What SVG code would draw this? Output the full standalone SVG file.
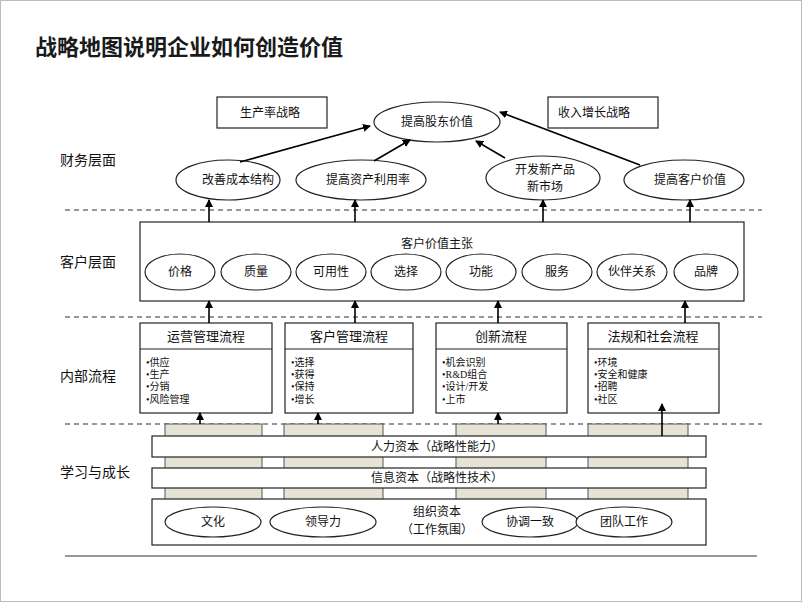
<svg xmlns="http://www.w3.org/2000/svg" width="802" height="602" viewBox="0 0 802 602">
<defs>
<marker id="ah" markerWidth="8" markerHeight="8" refX="7" refY="4" orient="auto" markerUnits="userSpaceOnUse"><path d="M0,0 L8,4 L0,8 z" fill="#000"/></marker>
<style>
text{font-family:"Liberation Serif","Noto Sans CJK SC",serif;fill:#111;text-anchor:middle;dominant-baseline:central;font-size:12px}
.lbl{font-size:14px;text-anchor:start}
.b{fill:#fff;stroke:#222;stroke-width:1.2}
.bg{fill:#e6e3d6;stroke:#555;stroke-width:1}
.dash{stroke:#333;stroke-width:1.2;stroke-dasharray:5,4}
.c line{stroke:#000;stroke-width:1.6;marker-end:url(#ah)}
.bul{text-anchor:start;font-size:10px}
</style>
</defs>
<rect x="0.5" y="0.5" width="801" height="601" fill="#fff" stroke="#bbb"/>
<text x="35" y="45" style="font-family:'Noto Sans CJK SC',sans-serif;font-size:22px;font-weight:bold;text-anchor:start;fill:#1a1a1a">战略地图说明企业如何创造价值</text>
<g id="rowlabels">
<text class="lbl" x="60" y="160">财务层面</text>
<text class="lbl" x="60" y="262">客户层面</text>
<text class="lbl" x="60" y="376">内部流程</text>
<text class="lbl" x="60" y="472">学习与成长</text>
</g>
<g id="dividers">
<line class="dash" x1="65" y1="210" x2="762" y2="210"/>
<line class="dash" x1="65" y1="317" x2="762" y2="317"/>
<line class="dash" x1="65" y1="424" x2="762" y2="424"/>
<line x1="65" y1="556" x2="757" y2="556" stroke="#333" stroke-width="1.2"/>
</g>
<g id="finance">
<g id="s1"><rect class="b" x="217" y="97" width="110" height="31"/><text x="240" y="113" style="text-anchor:start">生产率战略</text></g>
<g id="s2"><rect class="b" x="548" y="97" width="110" height="31"/><text x="558" y="113" style="text-anchor:start">收入增长战略</text></g>
<g id="f0"><ellipse class="b" cx="437" cy="122" rx="63" ry="20"/><text x="437" y="122">提高股东价值</text></g>
<g id="f1"><ellipse class="b" cx="228" cy="180" rx="52" ry="20"/><text x="238" y="180">改善成本结构</text></g>
<g id="f2"><ellipse class="b" cx="361" cy="180" rx="65" ry="20"/><text x="368" y="180">提高资产利用率</text></g>
<g id="f3"><ellipse class="b" cx="543" cy="178" rx="57" ry="22"/><text x="545" y="170">开发新产品</text><text x="545" y="187">新市场</text></g>
<g id="f4"><ellipse class="b" cx="684" cy="180" rx="60" ry="20"/><text x="690" y="180">提高客户价值</text></g>
</g>
<g id="customer">
<rect class="b" x="140" y="222" width="604" height="79"/>
<text x="437" y="244">客户价值主张</text>
<g id="c1"><ellipse class="b" cx="180" cy="272" rx="35" ry="18"/><text x="180" y="272">价格</text></g>
<g id="c2"><ellipse class="b" cx="256" cy="272" rx="35" ry="18"/><text x="256" y="272">质量</text></g>
<g id="c3"><ellipse class="b" cx="331" cy="272" rx="35" ry="18"/><text x="331" y="272">可用性</text></g>
<g id="c4"><ellipse class="b" cx="406" cy="272" rx="35" ry="18"/><text x="406" y="272">选择</text></g>
<g id="c5"><ellipse class="b" cx="481" cy="272" rx="35" ry="18"/><text x="481" y="272">功能</text></g>
<g id="c6"><ellipse class="b" cx="557" cy="272" rx="35" ry="18"/><text x="557" y="272">服务</text></g>
<g id="c7"><ellipse class="b" cx="632" cy="272" rx="35" ry="18"/><text x="632" y="272">伙伴关系</text></g>
<g id="c8"><ellipse class="b" cx="706" cy="272" rx="32" ry="18"/><text x="706" y="272">品牌</text></g>
</g>
<g id="internal">
<g id="p1"><rect class="b" x="140" y="323" width="132" height="90"/><line x1="140" y1="349" x2="272" y2="349" stroke="#222"/><text x="206" y="336" style="font-size:13px">运营管理流程</text>
<text class="bul" x="146" y="362">•供应</text><text class="bul" x="146" y="374">•生产</text><text class="bul" x="146" y="386">•分销</text><text class="bul" x="146" y="399">•风险管理</text></g>
<g id="p2"><rect class="b" x="285" y="323" width="128" height="90"/><line x1="285" y1="349" x2="413" y2="349" stroke="#222"/><text x="349" y="336" style="font-size:13px">客户管理流程</text>
<text class="bul" x="291" y="362">•选择</text><text class="bul" x="291" y="374">•获得</text><text class="bul" x="291" y="386">•保持</text><text class="bul" x="291" y="399">•增长</text></g>
<g id="p3"><rect class="b" x="436" y="323" width="131" height="90"/><line x1="436" y1="349" x2="567" y2="349" stroke="#222"/><text x="501" y="336" style="font-size:13px">创新流程</text>
<text class="bul" x="442" y="362">•机会识别</text><text class="bul" x="442" y="374">•R&amp;D组合</text><text class="bul" x="442" y="386">•设计/开发</text><text class="bul" x="442" y="399">•上市</text></g>
<g id="p4"><rect class="b" x="588" y="323" width="131" height="90"/><line x1="588" y1="349" x2="719" y2="349" stroke="#222"/><text x="653" y="336" style="font-size:13px">法规和社会流程</text>
<text class="bul" x="594" y="362">•环境</text><text class="bul" x="594" y="374">•安全和健康</text><text class="bul" x="594" y="386">•招聘</text><text class="bul" x="594" y="399">•社区</text></g>
</g>
<g id="learning">
<rect class="bg" x="165" y="424" width="97" height="76"/>
<rect class="bg" x="284" y="424" width="99" height="76"/>
<rect class="bg" x="456" y="424" width="90" height="76"/>
<rect class="bg" x="588" y="424" width="100" height="76"/>
<g id="l1"><rect class="b" x="152" y="436" width="554" height="21"/><text x="437" y="446.5">人力资本（战略性能力）</text></g>
<g id="l2"><rect class="b" x="152" y="468" width="554" height="20"/><text x="437" y="478">信息资本（战略性技术）</text></g>
<g id="l3"><rect class="b" x="152" y="499" width="554" height="46"/><text x="437" y="512">组织资本</text><text x="437" y="530">（工作氛围）</text>
<ellipse class="b" cx="213" cy="522" rx="48" ry="15"/><text x="213" y="522">文化</text>
<ellipse class="b" cx="323" cy="522" rx="53" ry="15"/><text x="323" y="522">领导力</text>
<ellipse class="b" cx="530" cy="522" rx="48" ry="15"/><text x="530" y="522">协调一致</text>
<ellipse class="b" cx="624" cy="522" rx="48" ry="15"/><text x="624" y="522">团队工作</text></g>
</g>
<g id="connectors" class="c">
<line x1="240" y1="162" x2="370" y2="126"/>
<line x1="374" y1="161" x2="410" y2="140"/>
<line x1="505" y1="158" x2="476" y2="141"/>
<line x1="640" y1="165" x2="500" y2="112"/>
<line x1="209" y1="222" x2="209" y2="200"/>
<line x1="355" y1="222" x2="355" y2="200"/>
<line x1="543" y1="222" x2="543" y2="200"/>
<line x1="690" y1="222" x2="690" y2="200"/>
<line x1="209" y1="323" x2="209" y2="301"/>
<line x1="355" y1="323" x2="355" y2="301"/>
<line x1="498" y1="323" x2="498" y2="301"/>
<line x1="685" y1="323" x2="685" y2="301"/>
<line x1="200" y1="424" x2="200" y2="413"/>
<line x1="318" y1="424" x2="318" y2="413"/>
<line x1="498" y1="424" x2="498" y2="413"/>
<line x1="662" y1="436" x2="662" y2="404"/>
</g>
</svg>
